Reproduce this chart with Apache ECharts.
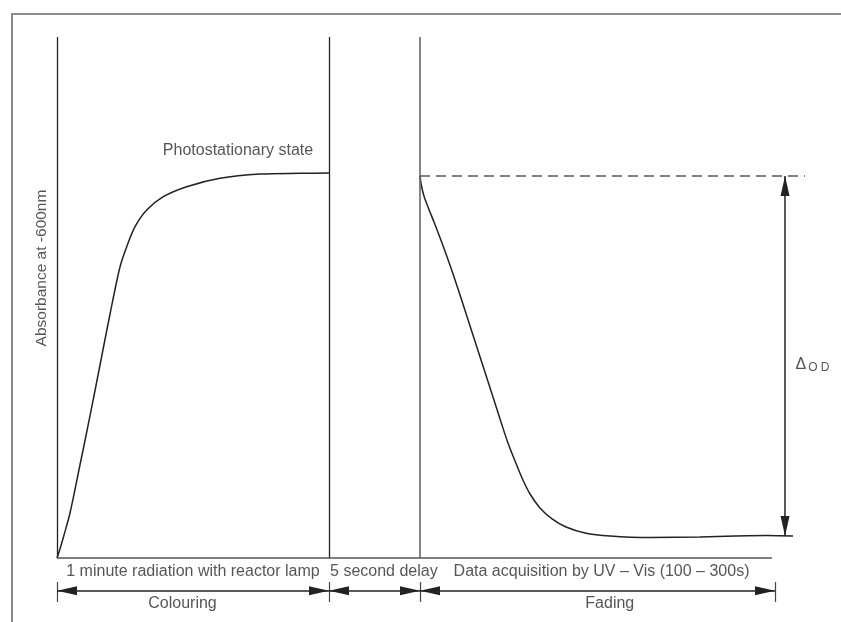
<!DOCTYPE html>
<html>
<head>
<meta charset="UTF-8">
<title>Photochromic fading</title>
<script type="text/javascript" src="https://cdn.jsdelivr.net/npm/echarts@6/dist/echarts.min.js"></script>
<style>
  html, body { margin: 0; padding: 0; background: #fff; }
</style>
</head>
<body>
<div id="main" style="width:841px;height:622px"></div>
<script type="text/javascript">
// colouring curve (arbitrary units, x = time, y = absorbance)
var riseX = [0, 0.40, 0.94, 1.74, 3.07, 4.41, 5.75, 7.09, 8.42, 9.32, 10.43, 11.99, 14.21, 17.34, 21.79, 27.14, 32.49, 36.36];
var riseY = [0, 1.73, 4.41, 8.64, 17.85, 27.26, 37.04, 46.83, 55.85, 59.75, 63.59, 66.79, 69.35, 71.27, 72.88, 73.70, 73.84, 73.90];
// fading curve
var fadeX = [48.53, 48.73, 49.06, 49.60, 50.40, 51.47, 52.81, 54.14, 55.48, 56.82, 58.16, 59.36, 60.29, 61.23, 62.17, 63.24, 64.57, 66.18, 68.05, 70.59, 73.93, 79.28, 85.96, 90.64, 94.92, 98.40];
var fadeY = [73.32, 71.40, 69.48, 67.37, 64.49, 60.46, 55.09, 49.33, 43.38, 37.43, 31.48, 26.10, 22.07, 18.62, 15.36, 12.28, 9.60, 7.49, 5.95, 4.80, 4.22, 3.93, 4.03, 4.22, 4.32, 4.22];

// phase boundaries along the time axis
var phaseEdges = [0, 36.36, 48.53, 95.99];
var phaseNames = ['1 minute radiation with reactor lamp', '5 second delay', 'Data acquisition by UV \u2013 Vis (100 \u2013 300s)'];
var processNames = ['Colouring', 'Fading'];
var plateau = 73.32;
var baseline = 4.22;
var topY = 100;
var axisEnd = 95.59;
var dashEnd = 100;
var odX = 97.33;

var myChart = echarts.init(document.getElementById('main'));

function pts(xs, ys) {
  return xs.map(function (x, i) { return [x, ys[i]]; });
}

var dark = '#222';
var grey = '#555';
var font = 'Liberation Sans, Arial, sans-serif';

// plain guide lines
var guides = [
  [{coord: [0, 0]}, {coord: [0, topY]}],
  [{coord: [phaseEdges[1], 0]}, {coord: [phaseEdges[1], topY]}],
  [{coord: [phaseEdges[2], 0]}, {coord: [phaseEdges[2], topY], lineStyle: {color: '#666', width: 1.6}}],
  [{coord: [0, 0]}, {coord: [axisEnd, 0], lineStyle: {color: grey, width: 1.6}}],
  [{coord: [phaseEdges[2], plateau]}, {coord: [dashEnd, plateau], lineStyle: {color: grey, type: [10, 6], width: 1.5}}]
];
phaseEdges.forEach(function (x) {
  guides.push([{coord: [x, -4.61]}, {coord: [x, -8.45], lineStyle: {color: '#444', width: 1.2}}]);
});

// double-headed arrows
var arrows = [[{coord: [odX, plateau]}, {coord: [odX, baseline]}]];
for (var i = 0; i < phaseEdges.length - 1; i++) {
  arrows.push([{coord: [phaseEdges[i], -6.28]}, {coord: [phaseEdges[i + 1], -6.28]}]);
}

var labels = [
  {name: 'Photostationary state', value: [24.2, 78.12]},
  {name: phaseNames[0], value: [18.18, -2.59]},
  {name: phaseNames[1], value: [43.7, -2.59]},
  {name: phaseNames[2], value: [72.8, -2.59]},
  {name: processNames[0], value: [16.78, -8.83]},
  {name: processNames[1], value: [73.9, -8.83]},
  {name: 'Absorbance at -600nm', value: [-2.0, 55.66], label: {rotate: 90, fontSize: 15.5}},
  {name: 'OD', value: [101.0, 37.04], label: {formatter: '{d|\u0394}{s|O D}'}}
];

option = {
  animation: false,
  backgroundColor: '#fff',
  graphic: [{
    type: 'rect',
    shape: {x: 12, y: 14, width: 900, height: 700},
    style: {fill: 'none', stroke: '#8c8c8c', lineWidth: 2},
    silent: true
  }],
  grid: {left: 27.08, right: 6.08, top: 37, bottom: 1.5},
  xAxis: {type: 'value', min: -4, max: 104, show: false},
  yAxis: {type: 'value', min: -12, max: 100, show: false},
  series: [
    {
      name: 'rise', type: 'line', data: pts(riseX, riseY), symbol: 'none',
      smooth: 0.3,
      lineStyle: {color: dark, width: 1.5}
    },
    {
      name: 'fade', type: 'line', data: pts(fadeX, fadeY), symbol: 'none',
      smooth: 0.3,
      lineStyle: {color: dark, width: 1.5}
    },
    {
      name: 'guides', type: 'line', data: [],
      markLine: {
        silent: true, animation: false, symbol: ['none', 'none'],
        label: {show: false}, lineStyle: {color: dark, width: 1.3, type: 'solid'},
        emphasis: {disabled: true},
        data: guides
      }
    },
    {
      name: 'arrows', type: 'line', data: [],
      markLine: {
        silent: true, animation: false, symbol: ['triangle', 'triangle'],
        symbolSize: [9, 20], symbolOffset: [[0, 10], [0, 10]],
        label: {show: false}, lineStyle: {color: dark, width: 1.5, type: 'solid'},
        itemStyle: {color: dark},
        emphasis: {disabled: true},
        data: arrows
      }
    },
    {
      name: 'text', type: 'scatter', data: labels, symbolSize: 0, silent: true,
      label: {
        show: true, position: 'inside', formatter: '{b}', color: '#2a2a2a',
        fontFamily: font, fontSize: 16,
        rich: {
          d: {fontSize: 16, color: '#2a2a2a', fontFamily: font},
          s: {fontSize: 12, color: '#2a2a2a', fontFamily: font, padding: [5, 0, 0, 2]}
        }
      }
    }
  ]
};

myChart.setOption(option);
</script>
</body>
</html>
